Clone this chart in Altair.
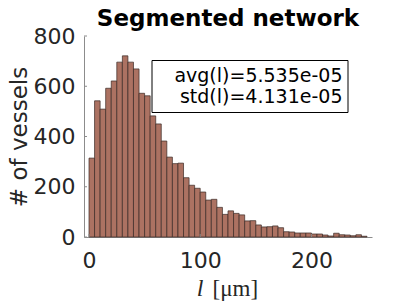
import altair as alt
import pandas as pd

# Histogram: 50 bins of 5 um from 0 to 250 um
bin_width = 5
counts = [314, 542, 509, 592, 621, 696, 721, 696, 669, 572,
          562, 482, 450, 382, 318, 292, 294, 236, 206, 194,
          179, 147, 150, 118, 90, 104, 94, 88, 64, 65,
          48, 40, 41, 44, 37, 21, 20, 16, 16, 16,
          12, 12, 8, 4, 15, 9, 8, 5, 9, 3]
x_ticks = [0, 100, 200]
y_ticks = [0, 200, 400, 600, 800]
legend_lines = ["avg(l)=5.535e-05", "std(l)=4.131e-05"]
title_text = ["Segmented network"]
x_title_var = ["l"]
x_title_unit = ["[μm]"]
y_title = "# of vessels"

bars = pd.DataFrame({
    "start": [i * bin_width for i in range(len(counts))],
    "end": [(i + 1) * bin_width for i in range(len(counts))],
    "count": counts,
    "zero": [0] * len(counts),
})

W, H = 288, 201
xscale = alt.Scale(domain=[0, 250], nice=False, zero=False)
yscale = alt.Scale(domain=[0, 800], nice=False)

hist = alt.Chart(bars).mark_bar(
    color="#ac7262", stroke="#3a2a25", strokeWidth=0.7, opacity=1, orient="vertical"
).encode(
    x=alt.X("start:Q", scale=xscale,
            axis=alt.Axis(values=x_ticks, title=None, ticks=False, tickSize=0,
                          domainColor="#8c8c8c", domainWidth=1,
                          labelFont="DejaVu Sans", labelFontSize=22, labelColor="#262626",
                          labelBaseline="alphabetic", labelPadding=30, labelAlign="center",
                          grid=False, labelFlush=False, labelOverlap=False)),
    x2="end:Q",
    y=alt.Y("count:Q", scale=yscale,
            axis=alt.Axis(values=y_ticks, title=y_title, ticks=False, tickSize=0,
                          domainColor="#8c8c8c", domainWidth=1,
                          labelFont="DejaVu Sans", labelFontSize=22, labelColor="#262626",
                          labelBaseline="middle", labelAlign="right", labelPadding=9,
                          titleFont="DejaVu Sans", titleFontSize=23, titleColor="#262626",
                          titleFontWeight="normal", titleBaseline="alphabetic",
                          titleAngle=270, titleX=-58, titleY=H / 2, titleAlign="center",
                          grid=False, labelFlush=False, labelOverlap=False)),
    y2="zero:Q",
)

tick_df = pd.DataFrame({"count": y_ticks})
xtick_df = pd.DataFrame({"start": x_ticks})

ytick_rules = alt.Chart(tick_df).mark_rule(color="#8c8c8c", strokeWidth=1).encode(
    y=alt.Y("count:Q", scale=yscale),
    x=alt.value(0), x2=alt.value(3),
)
xtick_rules = alt.Chart(xtick_df).mark_rule(color="#8c8c8c", strokeWidth=1).encode(
    x=alt.X("start:Q", scale=xscale),
    y=alt.value(H), y2=alt.value(H - 3),
)

box = alt.Chart(pd.DataFrame({"a": [0]})).mark_rect(
    fill="white", stroke="black", strokeWidth=1
).encode(x=alt.value(68), x2=alt.value(264), y=alt.value(24.5), y2=alt.value(76.5))

txt1 = alt.Chart(pd.DataFrame({"t": [legend_lines[0]]})).mark_text(
    font="DejaVu Sans", fontSize=19, align="right", baseline="alphabetic", color="black"
).encode(text="t:N", x=alt.value(258.5), y=alt.value(45.7))
txt2 = alt.Chart(pd.DataFrame({"t": [legend_lines[1]]})).mark_text(
    font="DejaVu Sans", fontSize=19, align="right", baseline="alphabetic", color="black"
).encode(text="t:N", x=alt.value(258.5), y=alt.value(67.3))

title_mark = alt.Chart(pd.DataFrame({"t": title_text})).mark_text(
    font="DejaVu Sans", fontSize=23, fontWeight="bold", align="center",
    baseline="alphabetic", color="black"
).encode(text="t:N", x=alt.value(W / 2), y=alt.value(-10))

xt_var = alt.Chart(pd.DataFrame({"t": x_title_var})).mark_text(
    font="Liberation Serif", fontSize=24, fontStyle="italic", align="center",
    baseline="alphabetic", color="#262626"
).encode(text="t:N", x=alt.value(116), y=alt.value(259.5))
xt_unit = alt.Chart(pd.DataFrame({"t": x_title_unit})).mark_text(
    font="Liberation Serif", fontSize=23, align="left",
    baseline="alphabetic", color="#262626"
).encode(text="t:N", x=alt.value(128.5), y=alt.value(259.5))

chart = alt.layer(hist, ytick_rules, xtick_rules, box, txt1, txt2, title_mark,
                  xt_var, xt_unit).properties(
    width=W, height=H,
    background="white",
    autosize=alt.AutoSizeParams(type="none"),
    padding={"left": 76, "top": 28, "right": 23, "bottom": 66},
).configure_view(stroke=None)

chart.save("out.html", embed_options={"renderer": "svg", "actions": False})
